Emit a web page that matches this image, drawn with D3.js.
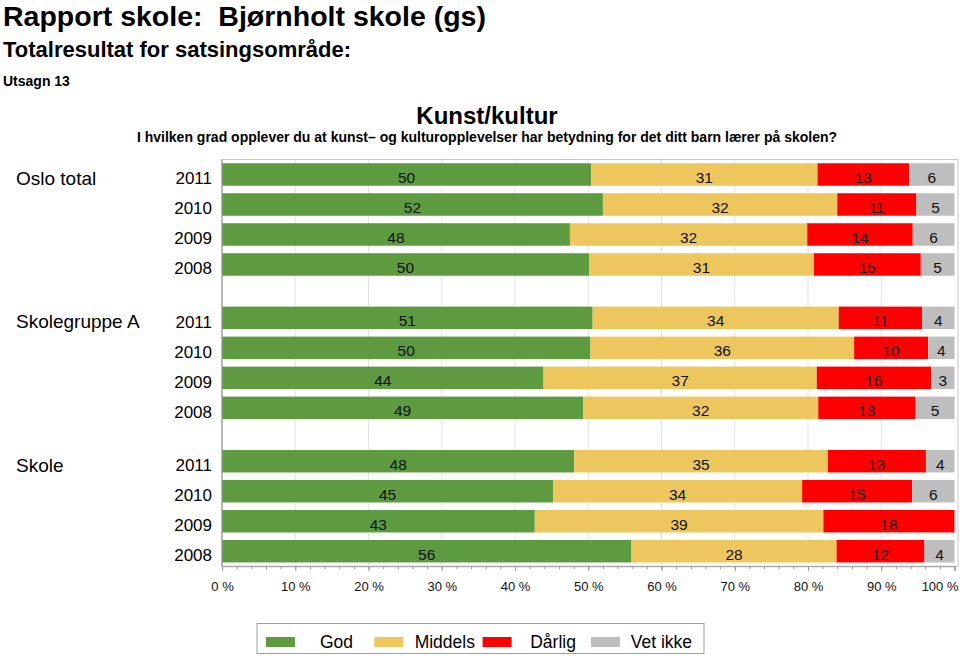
<!DOCTYPE html>
<html>
<head>
<meta charset="utf-8">
<script src="https://cdn.jsdelivr.net/npm/d3@7"></script>
<style>
  html, body { margin: 0; padding: 0; background: #fff; }
  svg { display: block; font-family: "Liberation Sans", Arial, Helvetica, sans-serif; }
</style>
</head>
<body>
<svg id="chart" width="960" height="656"></svg>
<script>
// ---- data ----
const groups = ["Oslo total", "Skolegruppe A", "Skole"];
const years = ["2011", "2010", "2009", "2008"];
const categories = ["God", "Middels", "Dårlig", "Vet ikke"];
const colors = ["#5d9a40", "#edc75e", "#ff0000", "#bebebe"];
// one value per row: Oslo total 2011..2008, Skolegruppe A 2011..2008, Skole 2011..2008
const god     = [50.4, 52.0, 47.5, 50.1, 50.6, 50.3, 43.9, 49.3, 48.1, 45.2, 42.7, 55.9];
const middels = [30.9, 32.0, 32.4, 30.7, 33.6, 36.0, 37.3, 32.1, 34.6, 34.0, 39.4, 28.0];
const darlig  = [12.5, 10.8, 14.4, 14.6, 11.4, 10.1, 15.6, 13.3, 13.4, 15.0, 17.9, 12.0];
const vetIkke = [ 6.2,  5.2,  5.7,  4.6,  4.4,  3.6,  3.2,  5.3,  3.9,  5.8,  0.0,  4.1];
const xTicks = [0, 10, 20, 30, 40, 50, 60, 70, 80, 90, 100];

const titleMain = "Rapport skole:  Bjørnholt skole (gs)";
const titleSub = "Totalresultat for satsingsområde:";
const titleItem = "Utsagn 13";
const chartTitle = "Kunst/kultur";
const chartQuestion = "I hvilken grad opplever du at kunst– og kulturopplevelser har betydning for det ditt barn lærer på skolen?";

// ---- build rows ----
const seriesVals = [god, middels, darlig, vetIkke];
const rows = [];
groups.forEach((g, gi) => {
  years.forEach((y, yi) => {
    const idx = gi * years.length + yi;
    const obj = { group: g, year: y };
    categories.forEach((c, ci) => obj[c] = seriesVals[ci][idx]);
    rows.push(obj);
  });
});
const stacked = d3.stack().keys(categories)(rows);

const svg = d3.select("#chart");

// ---- scales ----
const x = d3.scaleLinear().domain([0, 100]).range([222, 954.5]);
const plotTop = 159.5, plotBottom = 566.2, plotRight = 958;
const yGroup = d3.scaleBand().domain(groups).range([plotTop, plotBottom]).paddingInner(0.163).paddingOuter(0);
const yRow = d3.scaleBand().domain(years).range([0, yGroup.bandwidth()]).paddingInner(0.25).paddingOuter(0.125);
const rowY = d => yGroup(d.group) + yRow(d.year);

// ---- titles ----
svg.append("text").attr("x", 3).attr("y", 26).attr("font-size", 28.5).attr("font-weight", "bold")
  .attr("xml:space", "preserve").style("white-space", "pre").text(titleMain);
svg.append("text").attr("x", 3).attr("y", 57).attr("font-size", 22).attr("font-weight", "bold").text(titleSub);
svg.append("text").attr("x", 3).attr("y", 86).attr("font-size", 14).attr("font-weight", "bold").text(titleItem);
svg.append("text").attr("x", 487).attr("y", 124).attr("font-size", 24).attr("font-weight", "bold")
  .attr("text-anchor", "middle").text(chartTitle);
svg.append("text").attr("x", 487).attr("y", 142).attr("font-size", 14).attr("font-weight", "bold")
  .attr("text-anchor", "middle").text(chartQuestion);

// ---- plot frame & grid ----
svg.append("rect").attr("x", x(0)).attr("y", plotTop).attr("width", plotRight - x(0)).attr("height", plotBottom - plotTop)
  .attr("fill", "none").attr("stroke", "#c8c8c8").attr("stroke-width", 1);
svg.append("g").selectAll("line").data(xTicks.filter(t => t > 0 && t < 100)).join("line")
  .attr("x1", d => x(d)).attr("x2", d => x(d)).attr("y1", plotTop).attr("y2", plotBottom)
  .attr("stroke", "#e3e3e3").attr("stroke-width", 1);

// ---- bars ----
const layer = svg.append("g").selectAll("g").data(stacked).join("g")
  .attr("fill", (d, i) => colors[i]);
layer.selectAll("rect").data(d => d).join("rect")
  .attr("x", d => x(d[0]))
  .attr("y", d => rowY(d.data))
  .attr("width", d => x(d[1]) - x(d[0]))
  .attr("height", yRow.bandwidth());

// value labels
const labLayer = svg.append("g").attr("font-size", 15.5).attr("text-anchor", "middle").attr("fill", "#111");
stacked.forEach(s => {
  labLayer.selectAll(null).data(s.filter(d => Math.round(d[1] - d[0]) > 0)).join("text")
    .attr("x", d => (x(d[0]) + x(d[1])) / 2)
    .attr("y", d => rowY(d.data) + yRow.bandwidth() / 2 + 8.5)
    .text(d => Math.round(d[1] - d[0]));
});

// year labels
svg.append("g").attr("font-size", 17).attr("text-anchor", "end").selectAll("text").data(rows).join("text")
  .attr("x", 212).attr("y", d => rowY(d) + yRow.bandwidth() / 2 + 10)
  .text(d => d.year);

// group labels
svg.append("g").attr("font-size", 19).selectAll("text").data(groups).join("text")
  .attr("x", 16).attr("y", g => yGroup(g) + yRow(years[0]) + yRow.bandwidth() / 2 + 10.5)
  .text(g => g);

// ---- axes ----
svg.append("line").attr("x1", x(0)).attr("x2", x(0)).attr("y1", plotTop).attr("y2", plotBottom + 0.5)
  .attr("stroke", "#9a9a9a").attr("stroke-width", 1.2);

const minor = svg.append("g").attr("transform", `translate(0,${plotBottom})`)
  .call(d3.axisBottom(x).tickValues(d3.range(0, 101, 2)).tickSize(3).tickFormat(""));
minor.select(".domain").remove();
minor.selectAll("line").attr("stroke", "#9a9a9a");

const xAxis = svg.append("g").attr("transform", `translate(0,${plotBottom})`)
  .call(d3.axisBottom(x).tickValues(xTicks).tickSize(5).tickPadding(11).tickFormat(d => d + " %"));
xAxis.select(".domain").attr("stroke", "#9a9a9a");
xAxis.selectAll(".tick line").attr("stroke", "#9a9a9a");
xAxis.selectAll("text").attr("font-size", 13).attr("fill", "#111")
  .attr("font-family", "\"Liberation Sans\", Arial, Helvetica, sans-serif");
// keep the last label inside the page, right-aligned like the original
xAxis.selectAll(".tick").filter(d => d === 100).select("text")
  .attr("text-anchor", "end").attr("x", 958 - x(100));

// ---- legend ----
const legX = 257, legY = 623.5, legW = 447, legH = 30, legStep = 108.3;
const legend = svg.append("g");
legend.append("rect").attr("x", legX).attr("y", legY).attr("width", legW).attr("height", legH)
  .attr("fill", "#fff").attr("stroke", "#a0a0a0").attr("stroke-width", 1);
const items = legend.selectAll("g.item").data(categories).join("g").attr("class", "item");
items.append("rect").attr("x", (d, i) => 266 + i * legStep).attr("y", 637).attr("width", 29).attr("height", 10)
  .attr("fill", (d, i) => colors[i]);
items.append("text").attr("x", (d, i) => 336.5 + i * legStep).attr("y", 648).attr("font-size", 17.5)
  .attr("text-anchor", "middle").text(d => d);
</script>
</body>
</html>
